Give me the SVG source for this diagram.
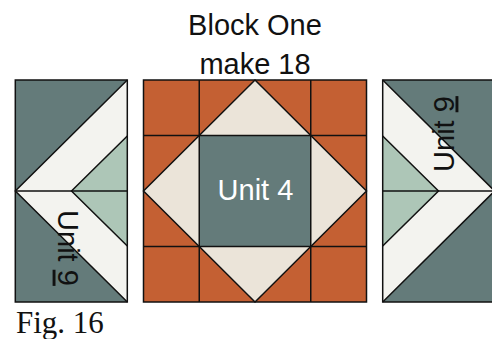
<svg xmlns="http://www.w3.org/2000/svg" width="492" height="339" viewBox="0 0 492 339">
<style>
.teal{fill:#647b7a}
.white{fill:#f3f3ef}
.green{fill:#adc6b7}
.orange{fill:#c46033}
.cream{fill:#ebe4d9}
.ln{fill:none;stroke:#111;stroke-width:1.5;stroke-linejoin:miter}
.t{font-family:"Liberation Sans",Arial,sans-serif;font-size:29px;fill:#111}
.tw{font-family:"Liberation Sans",Arial,sans-serif;font-size:29px;fill:#ffffff}
.fig{font-family:"Liberation Serif","Times New Roman",serif;font-size:31px;fill:#111}
</style>
<rect width="492" height="339" fill="#ffffff"/>
<g id="title">
<text class="t" x="255" y="35" text-anchor="middle">Block One</text>
<text class="t" x="255" y="74" text-anchor="middle">make 18</text>
</g>
<g id="unit9-left">
<rect class="teal" x="15.3" y="80" width="112" height="222"/>
<polygon class="white" points="127.3,80 15.3,191 127.3,302 127.3,246 71.5,191 127.3,136"/>
<polygon class="green" points="127.3,136 71.5,191 127.3,246"/>
<polyline class="ln" points="127.3,80 15.3,191 127.3,302"/>
<polyline class="ln" points="127.3,136 71.5,191 127.3,246"/>
<line class="ln" x1="15.3" y1="191" x2="127.3" y2="191"/>
<rect class="ln" x="15.3" y="80" width="112" height="222"/>
<text class="t" transform="translate(57.5,248) rotate(90)" text-anchor="middle">Unit <tspan text-decoration="underline">9</tspan></text>
</g>
<g id="block-center">
<rect class="orange" x="143.5" y="80" width="223" height="222"/>
<polygon class="cream" points="255,80 366.5,191 255,302 143.5,191"/>
<rect class="teal" x="199.25" y="135.5" width="111.5" height="111"/>
<line class="ln" x1="199.25" y1="80" x2="199.25" y2="302"/>
<line class="ln" x1="310.75" y1="80" x2="310.75" y2="302"/>
<line class="ln" x1="143.5" y1="135.5" x2="366.5" y2="135.5"/>
<line class="ln" x1="143.5" y1="246.5" x2="366.5" y2="246.5"/>
<polygon class="ln" points="255,80 366.5,191 255,302 143.5,191"/>
<rect class="ln" x="143.5" y="80" width="223" height="222"/>
<text class="tw" x="255.5" y="200" text-anchor="middle">Unit 4</text>
</g>
<g id="unit9-right">
<rect class="teal" x="382.7" y="80" width="112" height="222"/>
<polygon class="white" points="382.7,80 494.7,191 382.7,302 382.7,246 438.5,191 382.7,136"/>
<polygon class="green" points="382.7,136 438.5,191 382.7,246"/>
<polyline class="ln" points="382.7,80 494.7,191 382.7,302"/>
<polyline class="ln" points="382.7,136 438.5,191 382.7,246"/>
<line class="ln" x1="382.7" y1="191" x2="494.7" y2="191"/>
<rect class="ln" x="382.7" y="80" width="112" height="222"/>
<text class="t" transform="translate(453.5,134) rotate(-90)" text-anchor="middle">Unit <tspan text-decoration="underline">9</tspan></text>
</g>
<g id="caption">
<text class="fig" x="16" y="332.7">Fig. 16</text>
</g>
<g id="connectors"></g>
</svg>
